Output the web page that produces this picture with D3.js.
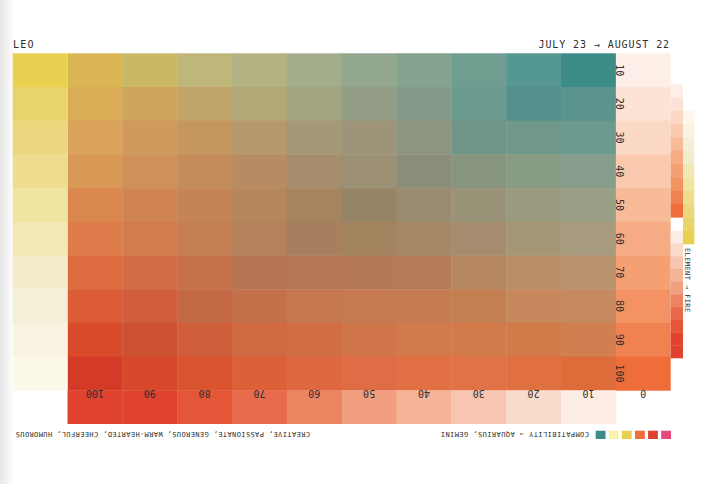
<!DOCTYPE html>
<html>
<head>
<meta charset="utf-8">
<script src="https://cdn.jsdelivr.net/npm/d3@7"></script>
<style>
  html, body { margin: 0; padding: 0; background: #fff; }
  svg { display: block; }
  text { font-family: "DejaVu Sans Mono", "Liberation Mono", monospace; fill: #2f2f2f; }
</style>
</head>
<body>
<svg id="chart" width="712" height="484"></svg>
<script>
// ---- data -------------------------------------------------------------
const title = 'LEO';
const dateRange = 'JULY 23 → AUGUST 22';
const traits = 'CREATIVE, PASSIONATE, GENEROUS, WARM-HEARTED, CHEERFUL, HUMOROUS';
const compatText = 'COMPATIBILITY → AQUARIUS, GEMINI';
const elementText = 'ELEMENT → FIRE';

const colValues = [100, 90, 80, 70, 60, 50, 40, 30, 20, 10, 0];
const rowValues = [10, 20, 30, 40, 50, 60, 70, 80, 90, 100];

// element (left) column, one shade per row
const elementShades = ['#e8d050', '#e8d46a', '#ebd87e', '#eedd8e', '#f1e4a2', '#f2e8b6',
  '#f4eccb', '#f6efd8', '#f9f3e1', '#fcf8ea'];
// compatibility (right) column, one shade per row
const compatShades = ['#fdefe7', '#fce3d6', '#fbd8c3', '#fac9ae', '#f8bb98', '#f6ab84',
  '#f4a073', '#f39363', '#f08150', '#ee6d38'];
// fire (bottom) row, one shade per column 100..10
const fireShades = ['#e04230', '#e1432e', '#e55638', '#e86a4c', '#ec8462', '#f19f80',
  '#f5b398', '#f8c6b0', '#f9dbcc', '#fdece4'];

// blended grid, rows 10..100, columns 100..10
const gridColors = [
  ['#d9b553', '#cbb867', '#bfb67a', '#b3b283', '#a2ad8b', '#93a78f', '#84a38f', '#6f9d90', '#549891', '#3b8b87'],
  ['#d9ac55', '#cea55c', '#c2a56a', '#b2a878', '#a3a581', '#949e87', '#849a8a', '#6b9a8e', '#558f8c', '#5b948f'],
  ['#daa25a', '#d09a5d', '#c5965e', '#b5986e', '#a49878', '#9d9479', '#8d9581', '#6f9488', '#70988a', '#6d9a8f'],
  ['#d99856', '#cf9157', '#c48c5a', '#b88c62', '#a68d6e', '#9b8f74', '#8b8d78', '#87957f', '#889b84', '#869e8b'],
  ['#db8750', '#d08452', '#c58455', '#b5855c', '#a6845f', '#968467', '#988b6f', '#999377', '#999a80', '#999e86'],
  ['#df7c4b', '#d27c4d', '#c57e54', '#b5805a', '#a6805e', '#a4835f', '#a68867', '#a68c6f', '#a59675', '#a69b7e'],
  ['#dd6c40', '#d26d45', '#c5714c', '#b57552', '#b77856', '#b47a56', '#b47b58', '#b5875f', '#b88f68', '#b8926c'],
  ['#db5c35', '#d05e3a', '#c26844', '#c4704a', '#c5774f', '#c57a52', '#c57c52', '#c37e52', '#c8885e', '#c78a60'],
  ['#d94b2a', '#cc5232', '#cf5e3a', '#d06a40', '#d16e44', '#d0744a', '#d27a4b', '#d27a4a', '#d27a48', '#d17f50'],
  ['#d33b28', '#d8482b', '#da5430', '#dc6038', '#de683f', '#df6c45', '#e07044', '#e07246', '#e0703f', '#de6c3a'],
];

const legendKeys = ['teal', 'pale', 'yellow', 'orange', 'red', 'pink'];
const legendColors = ['#3b8b87', '#f9f1ad', '#e8cf4f', '#ee6e38', '#e04030', '#e9487a'];

// ---- layout -----------------------------------------------------------
const svg = d3.select('#chart');
const W = 712, H = 484;

const defs = svg.append('defs');
const edge = defs.append('linearGradient').attr('id', 'edge');
edge.append('stop').attr('offset', 0).attr('stop-color', '#e6e6e6');
edge.append('stop').attr('offset', 1).attr('stop-color', '#ffffff');
svg.append('rect').attr('x', 0).attr('y', 0).attr('width', 14).attr('height', H)
  .attr('fill', 'url(#edge)');

// 12 columns: element column, 100..10, 0 ; 11 rows: 10..100, base
const x = d3.scaleBand().domain(['el', ...colValues]).range([12.7, 670.7]);
const y = d3.scaleBand().domain([...rowValues, 'base']).range([53.3, 424]);
const bw = x.bandwidth(), bh = y.bandwidth();

const cells = svg.append('g');

// main blended grid
rowValues.forEach((r, ri) => {
  colValues.slice(0, 10).forEach((c, ci) => {
    cells.append('rect')
      .attr('x', x(c)).attr('y', y(r))
      .attr('width', bw + 0.4).attr('height', bh + 0.4)
      .attr('fill', gridColors[ri][ci]);
  });
});

// element column
cells.selectAll('.el').data(rowValues).enter().append('rect')
  .attr('x', x('el')).attr('y', (d) => y(d))
  .attr('width', bw).attr('height', bh + 0.4)
  .attr('fill', (d, i) => elementShades[i]);

// compatibility column
cells.selectAll('.cp').data(rowValues).enter().append('rect')
  .attr('x', x(0)).attr('y', (d) => y(d))
  .attr('width', bw).attr('height', bh + 0.4)
  .attr('fill', (d, i) => compatShades[i]);

// fire row
cells.selectAll('.fr').data(colValues.slice(0, 10)).enter().append('rect')
  .attr('x', (d) => x(d)).attr('y', y('base'))
  .attr('width', bw + 0.4).attr('height', bh)
  .attr('fill', (d, i) => fireShades[i]);

// mini strips on the right
const yCompat = d3.scaleBand().domain(rowValues).range([84, 217.3]);
svg.append('g').selectAll('rect').data(rowValues).enter().append('rect')
  .attr('x', 670.7).attr('y', (d) => yCompat(d))
  .attr('width', 12.3).attr('height', yCompat.bandwidth() + 0.3)
  .attr('fill', (d, i) => compatShades[i]);

const yFire = d3.scaleBand().domain(colValues.slice(0, 10).reverse()).range([230.7, 358]);
svg.append('g').selectAll('rect').data(colValues.slice(0, 10).reverse()).enter().append('rect')
  .attr('x', 670.7).attr('y', (d) => yFire(d))
  .attr('width', 12.3).attr('height', yFire.bandwidth() + 0.3)
  .attr('fill', (d) => fireShades[colValues.indexOf(d)]);

const yElem = d3.scaleBand().domain(rowValues.slice().reverse()).range([110.7, 244]);
svg.append('g').selectAll('rect').data(rowValues.slice().reverse()).enter().append('rect')
  .attr('x', 683).attr('y', (d) => yElem(d))
  .attr('width', 11.3).attr('height', yElem.bandwidth() + 0.3)
  .attr('fill', (d) => elementShades[rowValues.indexOf(d)]);

// ---- labels -----------------------------------------------------------
svg.append('g').selectAll('text').data(rowValues).enter().append('text')
  .attr('transform', (d) => `translate(${x(0) + 0.2},${y(d) + bh / 2}) rotate(90)`)
  .attr('text-anchor', 'middle')
  .attr('font-size', 10)
  .text((d) => d);

svg.append('g').selectAll('text').data(colValues).enter().append('text')
  .attr('transform', (d) => `translate(${x(d) + bw / 2},${y('base') - 0.3}) rotate(180)`)
  .attr('text-anchor', 'middle')
  .attr('font-size', 10)
  .text((d) => d);

svg.append('text')
  .attr('x', 13).attr('y', 48)
  .attr('font-size', 10).attr('letter-spacing', 1.2)
  .text(title);

svg.append('text')
  .attr('x', 670).attr('y', 48)
  .attr('text-anchor', 'end')
  .attr('font-size', 10).attr('letter-spacing', 0.9)
  .text(dateRange);

svg.append('text')
  .attr('transform', 'translate(310,431.5) rotate(180)')
  .attr('font-size', 7).attr('letter-spacing', 0.39)
  .text(traits);

svg.append('text')
  .attr('transform', 'translate(589,431.5) rotate(180)')
  .attr('font-size', 7).attr('letter-spacing', 0.43)
  .text(compatText);

svg.append('text')
  .attr('transform', 'translate(685.2,248) rotate(90)')
  .attr('font-size', 7).attr('letter-spacing', 0.4)
  .text(elementText);

// legend swatches
const xLeg = d3.scaleBand().domain(legendKeys).range([595.7, 671]).paddingInner(0.25);
svg.append('g').selectAll('rect').data(legendKeys).enter().append('rect')
  .attr('x', (d) => xLeg(d)).attr('y', 430.7)
  .attr('width', xLeg.bandwidth()).attr('height', 8.3)
  .attr('fill', (d, i) => legendColors[i]);
</script>
</body>
</html>
